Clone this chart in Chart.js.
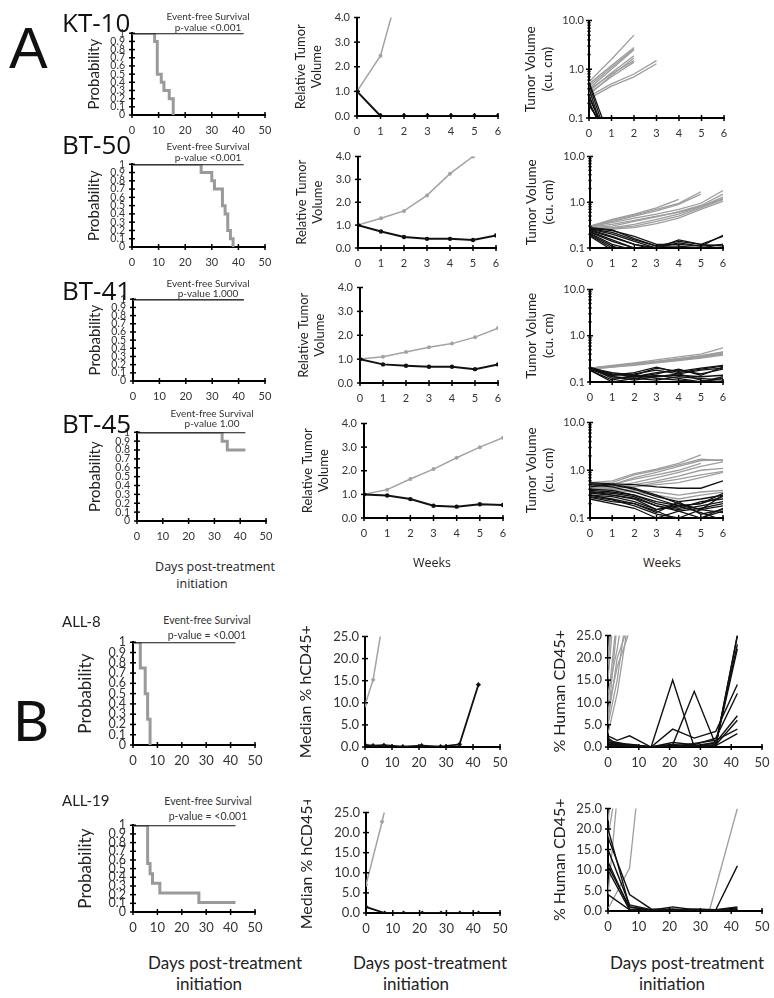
<!DOCTYPE html>
<html><head><meta charset="utf-8">
<script src="https://cdn.jsdelivr.net/npm/chart.js@4/dist/chart.umd.min.js"></script>
<style>
body{margin:0;width:774px;height:998px;background:#fff;position:relative;overflow:hidden;}
.t{position:absolute;white-space:nowrap;color:#111;line-height:1;}
</style></head><body>
<script>
// ---------------- DATA ----------------
const weeks = [0,1,2,3,4,5,6];
const daysALL8 = [0,3,7,14,21,28,35,42];
const daysALL19 = [0,7,14,21,28,35,42];
const treatedSurvDays = [0,42];
const treatedSurvProb = [1,1];

// Event-free survival (control arm, gray)
const kt10SurvDays = [0,8.5,9.5,11,12,14,15.5];
const kt10SurvProb = [1,0.9,0.5,0.4,0.3,0.2,0];
const bt50SurvDays = [0,26,30,31,34,35,36,37,38];
const bt50SurvProb = [1,0.9,0.8,0.7,0.5,0.4,0.2,0.1,0];
const bt41SurvDays = [0,42];
const bt41SurvProb = [1,1];
const bt45SurvDays = [0,33,35,42];
const bt45SurvProb = [1,0.9,0.8,0.8];
const all8SurvDays = [0,3,5,6,7];
const all8SurvProb = [1,0.75,0.5,0.25,0];
const all19SurvDays = [0,6,7,8,11,27,42];
const all19SurvProb = [1,0.56,0.44,0.33,0.22,0.11,0.11];

// Relative tumor volume (median), control gray / treated black
const kt10RelCtrl = [1.0,2.45,5.9];
const kt10RelTrt  = [1.0,0,0,0,0,0,0];
const bt50RelCtrl = [1.0,1.3,1.62,2.3,3.25,4.0];
const bt50RelTrt  = [1.0,0.72,0.48,0.4,0.4,0.35,0.55];
const bt41RelCtrl = [1.0,1.1,1.3,1.5,1.65,1.92,2.3];
const bt41RelTrt  = [1.0,0.78,0.72,0.68,0.68,0.58,0.78];
const bt45RelCtrl = [1.0,1.2,1.65,2.07,2.55,3.0,3.4];
const bt45RelTrt  = [1.0,0.95,0.8,0.52,0.48,0.58,0.55];

// Individual tumor volumes (cu. cm)
const kt10VolCtrl = [
 [0.55,1.6,5.0],[0.5,1.2,2.8],[0.45,1.1,2.6],[0.4,1.0,2.5],[0.35,0.85,1.9],
 [0.3,0.75,1.7],[0.38,0.8,1.5],[0.32,0.7,1.4],[0.25,0.45,0.7,1.3],[0.28,0.5,0.8,1.5]];
const kt10VolTrt = [
 [0.55,0.03],[0.5,0.02],[0.4,0.015],[0.3,0.02],[0.26,0.03],[0.22,0.02],[0.2,0.03],[0.18,0.04]];
const bt50VolCtrl = [
 [0.3,0.42,0.55,0.75,1.15],[0.3,0.4,0.52,0.7,0.95,1.7],[0.28,0.38,0.5,0.65,0.9,1.5],
 [0.3,0.36,0.45,0.55,0.7,0.95,1.8],[0.28,0.3,0.38,0.48,0.62,0.85,1.5],[0.27,0.28,0.33,0.42,0.55,0.8,1.3],
 [0.28,0.27,0.3,0.38,0.5,0.75,1.15],[0.26,0.26,0.28,0.34,0.45,0.7,1.05],[0.29,0.33,0.4,0.5,0.6,0.8,1.2]];
const bt50VolTrt = [
 [0.28,0.25,0.16,0.11,0.14,0.12,0.18],[0.27,0.24,0.18,0.12,0.12,0.11,0.19],[0.26,0.2,0.14,0.1,0.13,0.11,0.12],
 [0.25,0.18,0.12,0.1,0.15,0.12,0.11],[0.24,0.17,0.12,0.09,0.1,0.1,0.12],[0.23,0.15,0.1,0.08],
 [0.22,0.14,0.1,0.09],[0.21,0.12,0.09],[0.2,0.11,0.08],[0.19,0.1,0.07],[0.18,0.09],
 [0.26,0.22,0.15,0.11,0.11,0.1,0.1]];
const bt41VolCtrl = [
 [0.2,0.23,0.26,0.3,0.35,0.4,0.55],[0.2,0.22,0.25,0.28,0.32,0.37,0.45],[0.2,0.22,0.24,0.27,0.31,0.35,0.42],
 [0.19,0.21,0.24,0.27,0.3,0.34,0.4],[0.19,0.21,0.23,0.26,0.29,0.33,0.38],[0.2,0.22,0.25,0.28,0.32,0.36,0.44]];
const bt41VolTrt = [
 [0.2,0.15,0.14,0.2,0.17,0.2,0.23],[0.19,0.14,0.15,0.18,0.15,0.18,0.2],[0.2,0.12,0.13,0.16,0.18,0.15,0.19],
 [0.18,0.11,0.14,0.13,0.14,0.13,0.14],[0.19,0.13,0.12,0.14,0.12,0.1,0.13],[0.2,0.16,0.14,0.12,0.11,0.1,0.12],
 [0.21,0.15,0.13,0.15,0.19,0.14,0.21],[0.18,0.1,0.12,0.11,0.13,0.12,0.11],[0.2,0.14,0.16,0.21,0.16,0.19,0.22],
 [0.19,0.13,0.11,0.13,0.15,0.11,0.1]];
const bt45VolCtrl = [
 [0.55,0.6,0.85,1.05,1.4,2.1],[0.5,0.55,0.8,1.0,1.3,1.7,1.6],[0.52,0.5,0.7,0.9,1.2,1.6,1.65],
 [0.45,0.5,0.65,0.8,1.0,1.4],[0.48,0.45,0.55,0.7,0.9,1.2,1.5],[0.42,0.45,0.5,0.6,0.75,1.0,1.1],
 [0.4,0.42,0.45,0.55,0.65,0.8,0.95],[0.5,0.48,0.45,0.5,0.55,0.7,0.9],[0.45,0.4,0.38,0.35,0.3,0.35,0.38],
 [0.42,0.38,0.35,0.3,0.25,0.3,0.35]];
const bt45VolTrt = [
 [0.55,0.52,0.5,0.45,0.42,0.42,0.6],[0.52,0.5,0.42,0.3,0.2,0.15,0.3],[0.5,0.45,0.35,0.25,0.18,0.2,0.33],
 [0.45,0.5,0.4,0.28,0.22,0.25,0.3],[0.4,0.38,0.3,0.22,0.18,0.2,0.28],[0.38,0.35,0.3,0.2,0.16,0.22,0.25],
 [0.35,0.33,0.28,0.18,0.15,0.18,0.22],[0.33,0.3,0.25,0.15,0.2,0.15,0.18],[0.3,0.25,0.2,0.13,0.22,0.12,0.15],
 [0.28,0.24,0.18,0.12,0.1,0.15,0.13],[0.27,0.22,0.2,0.14,0.09,0.1,0.14],[0.25,0.2,0.16,0.1,0.14,0.16,0.2],
 [0.3,0.28,0.22,0.15,0.18,0.13,0.09],[0.36,0.3,0.26,0.18,0.14,0.1,0.16]];

// ALL: median % hCD45+
const all8MedCtrlDays = [0,3,7];
const all8MedCtrl = [9.5,15.2,30];
const all8MedTrt  = [0.5,0.3,0.4,0.1,0.3,0.1,0.6,14.1];
const all19MedCtrlDays = [0,6,14];
const all19MedCtrl = [7,22.7,46];
const all19MedTrt  = [1.5,0,0,0,0,0,0];

// ALL: individual % human CD45+
const all8IndCtrlDays = [[0,3],[0,3],[0,3,7],[0,3],[0,3],[0,3,7],[0,3,7],[0,3],[0,3,7],[0,3,7]];
const all8IndCtrl = [[10,30],[6,28],[12,22,40],[15,40],[18,45],[8,18,26],[5,15,35],[20,50],[3,12,30],[6,20,28]];
const all8IndTrt = [
 [2.5,1.5,2.5,0,0.5,0,0.5,25],[2,0.5,0.3,0,15,0,1,23],[1.5,1,0.5,0,0.5,12.5,0.5,22],
 [1,0.5,0.2,0,4,2,3.5,14],[0.8,0.3,0.5,0,1,0.5,2,12],[0.5,0.2,0.3,0,0.5,0.3,1,7],
 [0.3,0.1,0.1,0,0.2,0.1,0.5,6],[1.2,0.8,0.5,0,0.3,0.2,0.3,3],[0.6,0.4,0.6,0,0.1,0.8,1.5,4],
 [0.2,0.1,0.2,0,0.4,0.1,0.2,25]];
const all19IndCtrlDays = [[0,3],[0,3],[0,7],[0,7,14],[0,7],[33,42]];
const all19IndCtrl = [[22,40],[25,45],[4,60],[0.5,10.5,60],[18,50],[0.3,25]];
const all19IndTrt = [
 [20,1,0.2,1,0.3,0.2,0.5],[18,4,0.5,0.2,0.5,0.3,11],[15,1.5,0.3,0.5,0.2,0.3,1],
 [12,0.5,0.2,0.3,0.3,0.1,0.5],[11,1,0.2,0.1,0.2,0.2,0.3],[10,0.3,0.2,0.2,0.1,0.2,0.8],
 [4,0.3,0.1,0.2,0.1,0.1,0.2]];

// ---------------- STYLE / HELPERS ----------------
const FA = "Lato, 'Open Sans', sans-serif";
const FB = "Lato, 'Open Sans', sans-serif";
const GRAY = '#a3a3a3', BLACK = '#111';

const crossTicks = {
  id: 'crossTicks',
  defaults: {len: 3, minor: 1.6, width: 1.5},
  afterDraw(chart, args, o) {
    const ctx = chart.ctx, a = chart.chartArea, x = chart.scales.x, y = chart.scales.y;
    ctx.save(); ctx.strokeStyle = '#000'; ctx.lineWidth = o.width;
    x.ticks.forEach(t => { const p = x.getPixelForValue(t.value);
      ctx.beginPath(); ctx.moveTo(p, a.bottom - o.len); ctx.lineTo(p, a.bottom + o.len); ctx.stroke(); });
    y.ticks.forEach(t => { const p = y.getPixelForValue(t.value);
      const L = (y.type === 'logarithmic' && !t.major) ? o.minor : o.len;
      ctx.beginPath(); ctx.moveTo(a.left - L, p); ctx.lineTo(a.left + L, p); ctx.stroke(); });
    ctx.restore();
  }
};
Chart.register(crossTicks);

function xAxis(max, step, fam, size, pad) {
  return {type:'linear', min:0, max, afterFit: s => { s.height = 28; },
    ticks:{stepSize:step, color:'#333', font:{family:fam, size}, padding:pad, autoSkip:false, maxRotation:0, minRotation:0},
    grid:{display:false, drawTicks:false}, border:{color:'#000', width:2}};
}
function yAxis(o) {
  const ax = {type:o.type || 'linear', min:o.min, max:o.max, afterFit: s => { s.width = o.yw; },
    ticks:{color:'#333', font:{family:o.fam, size:o.size, lineHeight:1}, padding:o.pad, autoSkip:false, callback:o.cb},
    grid:{display:false, drawTicks:false}, border:{color:'#000', width:2},
    title:{display:true, text:o.title, color:'#222', padding:0, font:{family:o.tfam, size:o.tsize, lineHeight:1.2}}};
  if (o.step) ax.ticks.stepSize = o.step;
  if (o.type === 'logarithmic') {
    ax.afterBuildTicks = s => { s.ticks = s.ticks.filter(t => { const m = t.value / Math.pow(10, Math.floor(Math.log10(t.value) + 1e-9)); return Math.abs(m - Math.round(m)) < 1e-6; }); };
  }
  return ax;
}
function pts(xs, ys) { return ys.map((v, i) => ({x: xs[i], y: v})); }
function lineSet(data, color, w, extra) { return Object.assign({data, borderColor:color, backgroundColor:color, borderWidth:w, pointRadius:0, tension:0, fill:false}, extra || {}); }

function build(target, cfgFn) {
  const make = (w, h) => {
    const c = document.createElement('canvas');
    c.width = w; c.height = h;
    c.style.position = 'absolute'; c.style.width = w + 'px'; c.style.height = h + 'px';
    document.body.appendChild(c);
    const cfg = cfgFn();
    cfg.options = Object.assign({responsive:false, maintainAspectRatio:false, animation:false, events:[],
      layout:{padding:{top:10, right:18, left:0, bottom:0}}}, cfg.options);
    cfg.options.plugins = Object.assign({legend:{display:false}, tooltip:{enabled:false}}, cfg.options.plugins || {});
    return [c, new Chart(c, cfg)];
  };
  const W = target.w + 110, H = target.h + 60;
  let [c, ch] = make(W, H);
  const a = ch.chartArea;
  const dW = target.w - (a.right - a.left), dH = target.h - (a.bottom - a.top);
  ch.destroy(); c.remove();
  [c, ch] = make(Math.round(W + dW), Math.round(H + dH));
  const b = ch.chartArea;
  c.style.left = Math.round(target.x - b.left) + 'px';
  c.style.top = Math.round(target.y - b.top) + 'px';
}

const probCb = v => { const r = Math.round(v * 10) / 10; return (r === 0 || r === 1) ? String(r) : r.toFixed(1); };
const fix1 = v => Number(v).toFixed(1);

function survival(target, days, prob, o) {
  build(target, () => ({type:'line', data:{datasets:[
      lineSet(pts(treatedSurvDays, treatedSurvProb), BLACK, 1.8),
      lineSet(pts(days, prob), '#9a9a9a', 3, {stepped:true})]},
    options:{scales:{x:xAxis(50, 10, o.fam, o.xsize, o.xpad),
      y:yAxis({min:0, max:1, step:0.1, yw:o.yw, fam:o.fam, size:o.ysize, pad:o.ypad, cb:probCb, title:'Probability', tfam:o.fam, tsize:o.tsize})},
      plugins:{crossTicks:{len:3}}}}));
}
function relative(target, ctrl, trt) {
  build(target, () => ({type:'line', data:{datasets:[
      lineSet(pts(weeks, trt), BLACK, 2, {pointRadius:2.2, pointBorderWidth:0}),
      lineSet(pts(weeks, ctrl), GRAY, 1.5, {pointRadius:2, pointBorderWidth:0})]},
    options:{scales:{x:xAxis(6, 1, FA, 11, 9),
      y:yAxis({min:0, max:4, step:1, yw:64, fam:FA, size:11, pad:7, cb:fix1, title:['Relative Tumor','Volume'], tfam:FA, tsize:13})},
      plugins:{crossTicks:{len:3}}}}));
}
function volumes(target, ctrl, trt) {
  const mk = () => {
    const ds = [];
    trt.forEach(r => ds.push(lineSet(pts(weeks, r), BLACK, 1.3)));
    ctrl.forEach(r => ds.push(lineSet(pts(weeks, r), '#9d9d9d', 1.3)));
    return ds;
  };
  build(target, () => ({type:'line', data:{datasets:mk()},
    options:{scales:{x:xAxis(6, 1, FA, 11, 9),
      y:yAxis({type:'logarithmic', min:0.1, max:10, yw:66, fam:FA, size:11, pad:5,
        cb:v => { const l = Math.log10(v); return Math.abs(l - Math.round(l)) < 1e-6 ? v.toFixed(1) : ''; },
        title:['Tumor Volume','(cu. cm)'], tfam:FA, tsize:13.5})},
      plugins:{crossTicks:{len:3, minor:1.6}}}}));
}
function median(target, ctrlDays, ctrl, trtDays, trt) {
  build(target, () => ({type:'line', data:{datasets:[
      lineSet(pts(trtDays, trt), BLACK, 1.8, {pointRadius:2.6, pointStyle:'rectRot', pointBorderWidth:0}),
      lineSet(pts(ctrlDays, ctrl), GRAY, 1.5, {pointRadius:2.4, pointStyle:'rectRot', pointBorderWidth:0})]},
    options:{scales:{x:xAxis(50, 10, FB, 13, 8),
      y:yAxis({min:0, max:25, step:5, yw:69, fam:FB, size:13, pad:6, cb:fix1, title:'Median % hCD45+', tfam:FB, tsize:16})},
      plugins:{crossTicks:{len:3}}}}));
}
function individual(target, ctrlDays, ctrl, trtDays, trt) {
  const mk = () => {
    const ds = [];
    trt.forEach(r => ds.push(lineSet(pts(trtDays, r), BLACK, 1.4)));
    ctrl.forEach((r, i) => ds.push(lineSet(pts(ctrlDays[i], r), '#9d9d9d', 1.3)));
    return ds;
  };
  build(target, () => ({type:'line', data:{datasets:mk()},
    options:{scales:{x:xAxis(50, 10, FB, 13, 8),
      y:yAxis({min:0, max:25, step:5, yw:58, fam:FB, size:13, pad:6, cb:fix1, title:'% Human CD45+', tfam:FB, tsize:16})},
      plugins:{crossTicks:{len:3}}}}));
}

function T(str, x, cy, size, fam, align, color) {
  const d = document.createElement('div');
  d.className = 't'; d.textContent = str;
  d.style.fontSize = size + 'px'; d.style.fontFamily = fam;
  d.style.top = (cy - size / 2) + 'px'; d.style.left = x + 'px';
  if (color) d.style.color = color;
  if (align === 'c') d.style.transform = 'translateX(-50%)';
  document.body.appendChild(d);
}

// ---------------- PANEL A ----------------
const survA = {fam:FA, xsize:11, xpad:9, ysize:10.5, ypad:7, yw:47, tsize:15};
survival({x:132, y:33, w:133, h:82}, kt10SurvDays, kt10SurvProb, survA);
survival({x:132, y:164, w:133, h:83}, bt50SurvDays, bt50SurvProb, survA);
survival({x:133, y:299, w:132, h:82}, bt41SurvDays, bt41SurvProb, survA);
survival({x:137, y:432, w:129, h:89}, bt45SurvDays, bt45SurvProb, Object.assign({}, survA, {yw:51}));

relative({x:357, y:17, w:141, h:98}, kt10RelCtrl, kt10RelTrt);
relative({x:358, y:156, w:138, h:91}, bt50RelCtrl, bt50RelTrt);
relative({x:360, y:287, w:138, h:95}, bt41RelCtrl, bt41RelTrt);
relative({x:364, y:423, w:139, h:94}, bt45RelCtrl, bt45RelTrt);

volumes({x:589, y:20, w:135, h:97}, kt10VolCtrl, kt10VolTrt);
volumes({x:590, y:156, w:133, h:91}, bt50VolCtrl, bt50VolTrt);
volumes({x:590, y:289, w:133, h:92}, bt41VolCtrl, bt41VolTrt);
volumes({x:590, y:422, w:133, h:95}, bt45VolCtrl, bt45VolTrt);

// ---------------- PANEL B ----------------
const survB = {fam:FB, xsize:13, xpad:8, ysize:12.5, ypad:7, yw:58, tsize:17};
survival({x:133, y:642, w:122, h:103}, all8SurvDays, all8SurvProb, survB);
survival({x:133, y:825, w:122, h:87}, all19SurvDays, all19SurvProb, survB);
median({x:365, y:636, w:135, h:110}, all8MedCtrlDays, all8MedCtrl, daysALL8, all8MedTrt);
median({x:366, y:812, w:134, h:100}, all19MedCtrlDays, all19MedCtrl, daysALL19, all19MedTrt);
individual({x:608, y:635, w:154, h:111}, all8IndCtrlDays, all8IndCtrl, daysALL8, all8IndTrt);
individual({x:608, y:808, w:154, h:102}, all19IndCtrlDays, all19IndCtrl, daysALL19, all19IndTrt);

// ---------------- TEXT ----------------
const FT = "'Open Sans', Lato, sans-serif";
T('A', 9, 48, 58, "'Liberation Sans', Arial, sans-serif");
T('KT-10', 62, 22, 26, FT);
T('BT-50', 62, 144, 26, FT);
T('BT-41', 62, 290, 26, FT);
T('BT-45', 62, 423, 26, FT);
T('Event-free Survival', 208, 16, 10, FA, 'c', '#333');
T('p-value <0.001', 208, 27, 10, FA, 'c', '#333');
T('Event-free Survival', 208, 146, 10, FA, 'c', '#333');
T('p-value <0.001', 208, 157, 10, FA, 'c', '#333');
T('Event-free Survival', 208, 283, 10, FA, 'c', '#333');
T('p-value 1.000', 208, 293, 10, FA, 'c', '#333');
T('Event-free Survival', 212, 413, 10, FA, 'c', '#333');
T('p-value 1.00', 212, 423, 10, FA, 'c', '#333');
T('Days post-treatment', 215, 567, 12.5, FT, 'c', '#222');
T('initiation', 202, 584, 12.5, FT, 'c', '#222');
T('Weeks', 432, 563, 12.5, FT, 'c', '#222');
T('Weeks', 662, 563, 12.5, FT, 'c', '#222');

T('B', 13, 720, 56, "Lato, sans-serif");
T('ALL-8', 62, 621, 15, FB, null, '#222');
T('ALL-19', 62, 800, 15, FB, null, '#222');
T('Event-free Survival', 207, 620, 10.5, FB, 'c', '#333');
T('p-value = <0.001', 207, 635, 10.5, FB, 'c', '#333');
T('Event-free Survival', 208, 801, 10.5, FB, 'c', '#333');
T('p-value = <0.001', 208, 816, 10.5, FB, 'c', '#333');
T('Days post-treatment', 225, 962, 17, FB, 'c', '#222');
T('initiation', 209, 983, 17, FB, 'c', '#222');
T('Days post-treatment', 430, 962, 17, FB, 'c', '#222');
T('initiation', 416, 983, 17, FB, 'c', '#222');
T('Days post-treatment', 687, 962, 17, FB, 'c', '#222');
T('initiation', 672, 983, 17, FB, 'c', '#222');
</script>
</body></html>
